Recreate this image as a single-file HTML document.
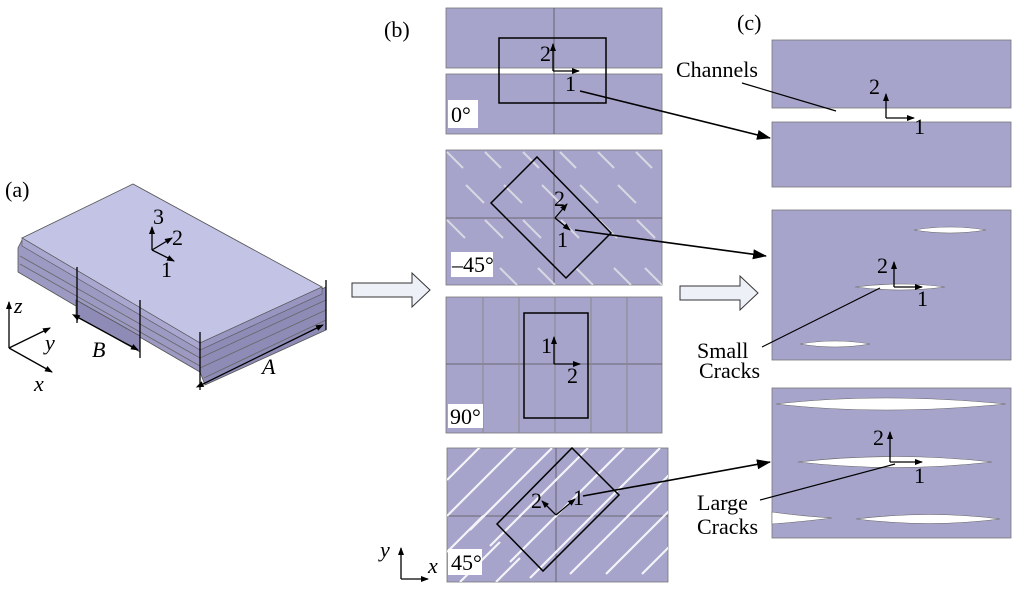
<!DOCTYPE html>
<html><head><meta charset="utf-8"><style>
html,body{margin:0;padding:0;background:#fff;}
svg{display:block;}
text{font-family:"Liberation Serif",serif;font-size:22px;fill:#000;}
.it{font-style:italic;}
</style></head><body>
<svg width="1024" height="590" viewBox="0 0 1024 590" xmlns="http://www.w3.org/2000/svg">
<defs>
<marker id="ah" markerWidth="8" markerHeight="8" refX="7" refY="4" orient="auto" markerUnits="userSpaceOnUse"><path d="M0,1 L8,4 L0,7 Z" fill="#000"/></marker>
<marker id="ahb" markerWidth="14" markerHeight="12" refX="13" refY="6" orient="auto" markerUnits="userSpaceOnUse"><path d="M0,1 L14,6 L0,11 Z" fill="#000"/></marker>
<marker id="ahs" markerWidth="8" markerHeight="8" refX="0" refY="4" orient="auto-start-reverse" markerUnits="userSpaceOnUse"><path d="M0,1 L8,4 L0,7 Z" fill="#000"/></marker>
<clipPath id="c45"><rect x="447" y="448" width="221" height="134"/></clipPath>
<clipPath id="cm45"><rect x="446" y="150" width="216" height="135"/></clipPath>
</defs>

<!-- (a) plate -->
<text x="5" y="197" font-size="25">(a)</text>
<polygon points="18,248 18,272 76,306 76,300 200,372 322,312 326,290 322,288 200,345 22,240" fill="#9c9ac2" stroke="#555" stroke-width="0.8"/>
<polygon points="200,345 326,287 326,330 205,385 200,372" fill="#8e8cb6" stroke="#555" stroke-width="0.8"/>
<polygon points="76,300 140,336 140,352 76,316" fill="#8e8cb6" stroke="#555" stroke-width="0.8"/>
<g stroke="#666" stroke-width="0.8" fill="none">
<line x1="20" y1="256" x2="200" y2="358"/><line x1="20" y1="264" x2="200" y2="366"/>
<line x1="200" y1="358" x2="326" y2="300"/><line x1="200" y1="368" x2="326" y2="310"/><line x1="204" y1="378" x2="326" y2="320"/>
</g>
<polygon points="22,238 133,184 322,287 200,343" fill="#c3c3e6" stroke="#555" stroke-width="0.8"/>
<polygon points="22,238 200,343 200,350 22,246" fill="#a9a7cf" stroke="#555" stroke-width="0.6"/>
<polygon points="200,343 322,287 322,294 200,350" fill="#9896c0" stroke="#555" stroke-width="0.6"/>
<g stroke="#000" stroke-width="1.3" fill="none">
<line x1="152" y1="250" x2="152" y2="227" marker-end="url(#ah)"/>
<line x1="152" y1="250" x2="172" y2="238" marker-end="url(#ah)"/>
<line x1="152" y1="250" x2="174" y2="261" marker-end="url(#ah)"/>
<line x1="77" y1="267" x2="77" y2="323"/><line x1="140" y1="300" x2="140" y2="358"/>
<line x1="79" y1="318" x2="138" y2="350" marker-start="url(#ahs)" marker-end="url(#ah)"/>
<line x1="200" y1="332" x2="200" y2="390"/><line x1="326" y1="280" x2="326" y2="330"/>
<line x1="203" y1="384" x2="323" y2="325" marker-start="url(#ahs)" marker-end="url(#ah)"/>
<line x1="9" y1="348" x2="9" y2="302" marker-end="url(#ah)"/>
<line x1="9" y1="348" x2="50" y2="328" marker-end="url(#ah)"/>
<line x1="9" y1="348" x2="52" y2="372" marker-end="url(#ah)"/>
</g>
<text x="153" y="224" font-size="18">3</text><text x="172" y="245" font-size="18">2</text><text x="161" y="277" font-size="18">1</text>
<text x="14" y="313" class="it" font-size="24">z</text><text x="45" y="350" class="it" font-size="24">y</text><text x="34" y="391" class="it" font-size="24">x</text>
<text x="92" y="357" class="it" font-size="24">B</text><text x="262" y="374" class="it" font-size="24">A</text>

<!-- big hollow arrows -->
<polygon points="352,283 412,283 412,273 430,290 412,307 412,297 352,297" fill="#eef0f8" stroke="#333" stroke-width="1"/>
<polygon points="680,286 740,286 740,276 758,293 740,310 740,300 680,300" fill="#eef0f8" stroke="#333" stroke-width="1"/>

<!-- (b) -->
<text x="384" y="37" font-size="25">(b)</text>
<rect x="446" y="8" width="216" height="60" fill="#a6a4cb" stroke="#777" stroke-width="0.8"/>
<rect x="446" y="74" width="216" height="60" fill="#a6a4cb" stroke="#777" stroke-width="0.8"/>
<line x1="554" y1="8" x2="554" y2="134" stroke="#555" stroke-width="0.8"/>
<rect x="499" y="38" width="107" height="65" fill="none" stroke="#000" stroke-width="1.5"/>
<rect x="448" y="100" width="30" height="28" fill="#fff"/><text x="451" y="122" font-size="19">0°</text>
<g stroke="#000" stroke-width="1.3"><line x1="553" y1="71" x2="553" y2="44" marker-end="url(#ah)"/><line x1="553" y1="71" x2="579" y2="71" marker-end="url(#ah)"/></g>
<text x="540" y="61">2</text><text x="565" y="91">1</text>

<rect x="446" y="150" width="216" height="135" fill="#a6a4cb" stroke="#777" stroke-width="0.8"/>
<line x1="446" y1="218" x2="662" y2="218" stroke="#555" stroke-width="0.8"/>
<line x1="554" y1="150" x2="554" y2="285" stroke="#555" stroke-width="0.8"/>
<g clip-path="url(#cm45)" stroke="#d8d8e2" stroke-width="2">
<line x1="447" y1="152" x2="463" y2="168"/><line x1="485" y1="152" x2="501" y2="168"/><line x1="523" y1="152" x2="539" y2="168"/><line x1="560" y1="152" x2="576" y2="168"/><line x1="598" y1="152" x2="614" y2="168"/><line x1="636" y1="152" x2="652" y2="168"/>
<line x1="466" y1="185" x2="484" y2="203"/><line x1="504" y1="185" x2="522" y2="203"/><line x1="542" y1="185" x2="560" y2="203"/><line x1="580" y1="185" x2="598" y2="203"/><line x1="618" y1="185" x2="636" y2="203"/>
<line x1="447" y1="220" x2="465" y2="238"/><line x1="485" y1="220" x2="503" y2="238"/><line x1="523" y1="220" x2="541" y2="238"/><line x1="561" y1="220" x2="579" y2="238"/><line x1="599" y1="220" x2="617" y2="238"/><line x1="637" y1="220" x2="655" y2="238"/>
<line x1="500" y1="268" x2="517" y2="285"/><line x1="538" y1="268" x2="555" y2="285"/><line x1="576" y1="268" x2="593" y2="285"/><line x1="614" y1="268" x2="631" y2="285"/><line x1="645" y1="268" x2="662" y2="285"/>
</g>
<polygon points="537,157 611,233 566,278 491,203" fill="none" stroke="#000" stroke-width="1.5"/>
<rect x="451" y="252" width="42" height="25" fill="#fff"/><text x="452" y="272" font-size="19">–45°</text>
<g stroke="#000" stroke-width="1.3"><line x1="555" y1="218" x2="567" y2="204" marker-end="url(#ah)"/><line x1="555" y1="218" x2="570" y2="230" marker-end="url(#ah)"/></g>
<text x="554" y="206">2</text><text x="557" y="247">1</text>

<rect x="446" y="297" width="216" height="136" fill="#a6a4cb" stroke="#777" stroke-width="0.8"/>
<line x1="446" y1="364" x2="662" y2="364" stroke="#555" stroke-width="0.8"/>
<g stroke="#888" stroke-width="1">
<line x1="483" y1="297" x2="483" y2="433"/><line x1="519" y1="297" x2="519" y2="433"/><line x1="555" y1="297" x2="555" y2="433"/><line x1="591" y1="297" x2="591" y2="433"/><line x1="627" y1="297" x2="627" y2="433"/>
</g>
<rect x="524" y="313" width="64" height="105" fill="none" stroke="#000" stroke-width="1.5"/>
<rect x="448" y="404" width="35" height="24" fill="#fff"/><text x="450" y="424" font-size="19">90°</text>
<g stroke="#000" stroke-width="1.3"><line x1="554" y1="364" x2="554" y2="337" marker-end="url(#ah)"/><line x1="554" y1="364" x2="580" y2="364" marker-end="url(#ah)"/></g>
<text x="541" y="353">1</text><text x="567" y="383">2</text>

<rect x="447" y="448" width="221" height="134" fill="#a6a4cb" stroke="#777" stroke-width="0.8"/>
<line x1="447" y1="516" x2="668" y2="516" stroke="#555" stroke-width="0.8"/>
<line x1="556" y1="448" x2="556" y2="582" stroke="#555" stroke-width="0.8"/>
<g clip-path="url(#c45)" stroke="#f4f4f8" stroke-width="2.2">
<line x1="447" y1="516" x2="516" y2="447"/><line x1="470" y1="530" x2="552" y2="448"/><line x1="490" y1="546" x2="588" y2="448"/>
<line x1="510" y1="562" x2="624" y2="448"/><line x1="530" y1="578" x2="660" y2="448"/><line x1="570" y1="574" x2="690" y2="454"/>
<line x1="606" y1="574" x2="690" y2="490"/><line x1="642" y1="574" x2="690" y2="526"/>
<line x1="447" y1="480" x2="480" y2="447"/><line x1="447" y1="552" x2="483" y2="516"/><line x1="460" y1="582" x2="500" y2="542"/><line x1="496" y1="582" x2="520" y2="558"/>
</g>
<polygon points="572,448 619,495 543,571 497,524" fill="none" stroke="#000" stroke-width="1.5"/>
<rect x="448" y="549" width="34" height="26" fill="#fff"/><text x="451" y="570" font-size="20">45°</text>
<g stroke="#000" stroke-width="1.3"><line x1="556" y1="515" x2="575" y2="499" marker-end="url(#ah)"/><line x1="556" y1="515" x2="542" y2="501" marker-end="url(#ah)"/></g>
<text x="531" y="508">2</text><text x="573" y="505">1</text>

<g stroke="#000" stroke-width="1.3"><line x1="401" y1="579" x2="401" y2="548" marker-end="url(#ah)"/><line x1="401" y1="579" x2="428" y2="579" marker-end="url(#ah)"/></g>
<text x="380" y="557" class="it" font-size="24">y</text><text x="428" y="573" class="it" font-size="24">x</text>

<g stroke="#000" stroke-width="1.6" fill="none">
<line x1="580" y1="91" x2="770" y2="138" marker-end="url(#ahb)"/>
<line x1="575" y1="230" x2="766" y2="256" marker-end="url(#ahb)"/>
<line x1="583" y1="496" x2="770" y2="462" marker-end="url(#ahb)"/>
</g>

<!-- (c) -->
<text x="737" y="30" font-size="25">(c)</text>
<rect x="772" y="40" width="239" height="68" fill="#a6a4cb" stroke="#777" stroke-width="0.8"/>
<rect x="772" y="122" width="239" height="65" fill="#a6a4cb" stroke="#777" stroke-width="0.8"/>
<g stroke="#000" stroke-width="1.3"><line x1="886" y1="118" x2="886" y2="94" marker-end="url(#ah)"/><line x1="886" y1="118" x2="914" y2="118" marker-end="url(#ah)"/></g>
<text x="869" y="94">2</text><text x="914" y="134">1</text>
<text x="676" y="77" font-size="23">Channels</text>
<line x1="742" y1="83" x2="836" y2="111" stroke="#000" stroke-width="1.2"/>

<rect x="772" y="210" width="239" height="150" fill="#a6a4cb" stroke="#777" stroke-width="0.8"/>
<g fill="#fff" stroke="#666" stroke-width="0.6">
<path d="M914,230 Q950,224 986,230 Q950,236 914,230Z"/>
<path d="M855,287 Q900,281 945,287 Q900,293 855,287Z"/>
<path d="M800,344 Q835,338 870,344 Q835,350 800,344Z"/>
</g>
<g stroke="#000" stroke-width="1.3"><line x1="894" y1="287" x2="894" y2="262" marker-end="url(#ah)"/><line x1="894" y1="287" x2="922" y2="287" marker-end="url(#ah)"/></g>
<text x="877" y="273">2</text><text x="917" y="306">1</text>
<text x="697" y="358" font-size="23">Small</text><text x="699" y="378" font-size="23">Cracks</text>
<line x1="762" y1="347" x2="880" y2="288" stroke="#000" stroke-width="1.2"/>

<rect x="772" y="388" width="239" height="150" fill="#a6a4cb" stroke="#777" stroke-width="0.8"/>
<g fill="#fff" stroke="#666" stroke-width="0.6">
<path d="M776,404 Q880,392 1006,404 Q880,416 776,404Z"/>
<path d="M798,462 Q895,451 992,462 Q895,473 798,462Z"/>
<path d="M772,512 Q800,516 832,518 Q800,522 772,524Z"/>
<path d="M856,519 Q930,510 1000,519 Q930,528 856,519Z"/>
</g>
<g stroke="#000" stroke-width="1.3"><line x1="890" y1="462" x2="890" y2="432" marker-end="url(#ah)"/><line x1="890" y1="462" x2="922" y2="462" marker-end="url(#ah)"/></g>
<text x="873" y="445">2</text><text x="914" y="483">1</text>
<text x="697" y="510" font-size="23">Large</text><text x="697" y="534" font-size="23">Cracks</text>
<line x1="760" y1="500" x2="895" y2="464" stroke="#000" stroke-width="1.2"/>
</svg>
</body></html>
